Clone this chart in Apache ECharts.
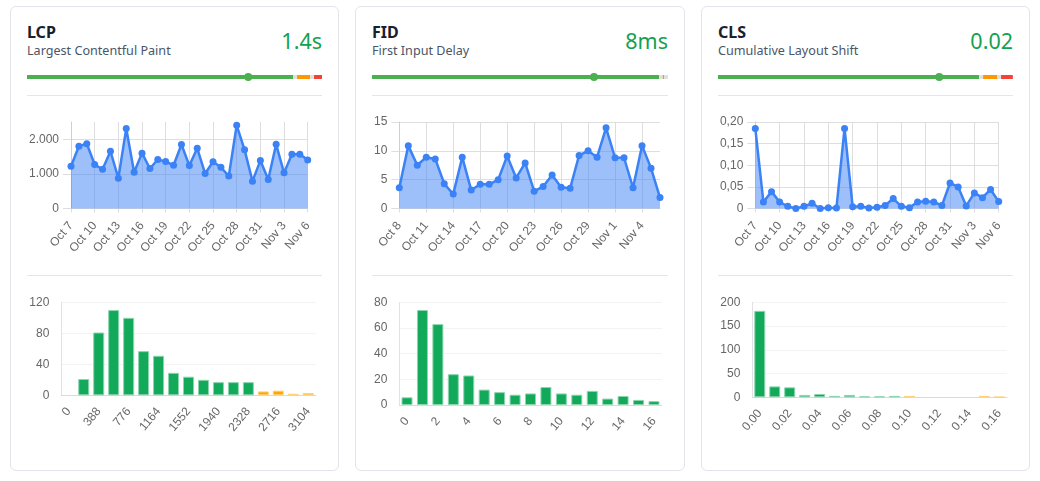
<!DOCTYPE html>
<html>
<head>
<meta charset="utf-8">
<title>Web Vitals</title>
<script src="https://cdn.jsdelivr.net/npm/echarts@6/dist/echarts.min.js"></script>
<style>
  html, body { margin: 0; padding: 0; background: #fff; width: 1040px; height: 481px; overflow: hidden; }
  body { position: relative; font-family: "Noto Sans", sans-serif; }
  #main { position: absolute; left: 0; top: 0; width: 1040px; height: 481px; z-index: 2; }
  .card { position: absolute; top: 6px; height: 463px; border: 1px solid #e3e4ea; border-radius: 6px; box-sizing: content-box; }
  .name { position: absolute; left: 16px; top: 13px; font-size: 16px; line-height: 24px; font-weight: 700; color: #1a202c; }
  .desc { position: absolute; left: 16px; top: 35px; font-size: 12.6px; line-height: 18px; color: #4a5568; white-space: nowrap; }
  .score { position: absolute; right: 16px; top: 17px; font-size: 21.5px; line-height: 34px; color: #12a150; }
  .rule { position: absolute; left: 16px; right: 16px; height: 1px; background: #e5e6eb; }
</style>
</head>
<body>
<div class="card" style="left:10px;width:327px">
  <div class="name">LCP</div><div class="desc">Largest Contentful Paint</div><div class="score">1.4s</div>
  <div class="rule" style="top:88px"></div><div class="rule" style="top:268px"></div>
</div>
<div class="card" style="left:355px;width:328px">
  <div class="name">FID</div><div class="desc">First Input Delay</div><div class="score">8ms</div>
  <div class="rule" style="top:88px"></div><div class="rule" style="top:268px"></div>
</div>
<div class="card" style="left:701px;width:327px">
  <div class="name">CLS</div><div class="desc">Cumulative Layout Shift</div><div class="score">0.02</div>
  <div class="rule" style="top:88px"></div><div class="rule" style="top:268px"></div>
</div>
<div id="main"></div>
<script>
// dates
var lcpDays = ['Oct 7','Oct 8','Oct 9','Oct 10','Oct 11','Oct 12','Oct 13','Oct 14','Oct 15','Oct 16','Oct 17','Oct 18','Oct 19','Oct 20','Oct 21','Oct 22','Oct 23','Oct 24','Oct 25','Oct 26','Oct 27','Oct 28','Oct 29','Oct 30','Oct 31','Nov 1','Nov 2','Nov 3','Nov 4','Nov 5','Nov 6'];
var fidDays = lcpDays.slice(1);
var clsDays = lcpDays;

// daily values
var lcpTrend = [1221,1800,1875,1270,1135,1655,875,2310,1050,1600,1155,1415,1355,1250,1850,1240,1740,1010,1350,1190,940,2405,1695,790,1385,840,1855,1030,1570,1570,1405];
var fidTrend = [3.6,10.9,7.5,8.9,8.6,4.3,2.5,8.9,3.2,4.2,4.2,5,9.1,5.3,7.9,3,3.8,5.8,3.7,3.5,9.2,10,8.9,14,8.8,8.8,3.6,10.9,7,1.9];
var clsTrend = [0.185,0.015,0.039,0.015,0.005,0,0.005,0.012,0,0.002,0.001,0.185,0.004,0.005,0.001,0.003,0.007,0.023,0.005,0.002,0.015,0.017,0.015,0.007,0.059,0.05,0.006,0.036,0.025,0.044,0.016];

// histogram bins and counts
var lcpBins = ['0','194','388','582','776','970','1164','1358','1552','1746','1940','2134','2328','2522','2716','2910','3104'];
var fidBins = ['0','1','2','3','4','5','6','7','8','9','10','11','12','13','14','15','16'];
var clsBins = ['0.00','0.01','0.02','0.03','0.04','0.05','0.06','0.07','0.08','0.09','0.10','0.11','0.12','0.13','0.14','0.15','0.16'];
var lcpCounts = [0,21,81,110,100,57,51,29,24,20,17,17,17,5,6,2,3];
var fidCounts = [6,74,63,24,23,12,10,8,9,14,9,8,11,5,7,4,3];
var clsCounts = [182,23,21,5,7,3,5,2,2,3,3,0,0,0,0,3,1];
var lcpGoodBins = 13;
var fidGoodBins = 17;
var clsGoodBins = 10;

// meter shares in percent: good, gap, needs improvement, gap, poor
var lcpMeter = [90.2,1.35,4.4,1.35,2.7];
var fidMeter = [97,1.25,0.4,1.35,0];
var clsMeter = [88.5,1.35,4.75,1.35,4];
var meterMarker = 75;

var TEXT = '#666';
var GRID_LINE = '#dedee0';
var LABEL_FONT = '"Liberation Sans", Arial, sans-serif';
var meterColors = ['#4caf50','#e0e0e0','#ff9800','#e0e0e0','#f44336'];

var grid = [], xAxis = [], yAxis = [], series = [];

function addGrid(box, xa, ya) {
    grid.push(Object.assign({ containLabel: false }, box));
    var idx = grid.length - 1;
    xa.gridIndex = idx;
    ya.gridIndex = idx;
    xAxis.push(xa);
    yAxis.push(ya);
    return idx;
}

function addMeter(left, width, shares) {
    var idx = addGrid({ left: left, width: width, top: 72, height: 10 },
        { type: 'value', min: 0, max: 100, show: false },
        { type: 'category', data: ['m'], show: false });
    shares.forEach(function (share, i) {
        series.push({
            type: 'bar', stack: 'meter' + idx, xAxisIndex: idx, yAxisIndex: idx,
            barWidth: 4, silent: true, data: [share],
            itemStyle: { color: meterColors[i] }
        });
    });
    series.push({
        type: 'scatter', xAxisIndex: idx, yAxisIndex: idx, z: 5, silent: true,
        symbolSize: 8, data: [[meterMarker, 'm']], itemStyle: { color: '#4caf50', opacity: 1 }
    });
}

function addTrend(left, width, days, values, yMax, yStep, fmt) {
    var showTop = yMax % yStep < 1e-9 || yStep - yMax % yStep < 1e-9;
    var idx = addGrid({ left: left, width: width, top: 122, height: 86.5 },
        {
            type: 'category', data: days, boundaryGap: false,
            axisLine: { lineStyle: { color: GRID_LINE } },
            axisTick: { interval: 2, length: 4, lineStyle: { color: GRID_LINE } },
            splitLine: { show: true, interval: 2, lineStyle: { color: GRID_LINE } },
            axisLabel: { interval: 2, rotate: 50, margin: 15, color: TEXT, fontSize: 12, fontFamily: LABEL_FONT, hideOverlap: false }
        },
        {
            type: 'value', min: 0, max: yMax, interval: yStep,
            axisLine: { show: true, lineStyle: { color: '#cfcfd2' } },
            axisTick: { show: true, length: 8, lineStyle: { color: GRID_LINE } },
            splitLine: { show: true, showMaxLine: showTop, lineStyle: { color: GRID_LINE } },
            axisLabel: { margin: 12, color: TEXT, fontSize: 12, fontFamily: LABEL_FONT, formatter: fmt, showMaxLabel: showTop }
        });
    series.push({
        type: 'line', xAxisIndex: idx, yAxisIndex: idx, data: values, clip: false, silent: true,
        symbol: 'circle', symbolSize: 7, showAllSymbol: true,
        lineStyle: { color: '#3b82f6', width: 2.5 },
        itemStyle: { color: '#3b82f6' },
        areaStyle: { color: '#3b82f6', opacity: 0.5 }
    });
}

function addHist(left, width, bottom, bins, counts, goodBins, yMax, yStep) {
    var idx = addGrid({ left: left, width: width, top: 302.3, height: bottom - 302.3 },
        {
            type: 'category', data: bins,
            axisLine: { lineStyle: { color: '#d9d9dc' } },
            axisTick: { show: false },
            axisLabel: { interval: 1, rotate: 50, margin: 14, color: TEXT, fontSize: 12, fontFamily: LABEL_FONT, hideOverlap: false }
        },
        {
            type: 'value', min: 0, max: yMax, interval: yStep,
            axisLine: { show: true, lineStyle: { color: '#e2e2e5' } },
            axisTick: { show: false },
            splitLine: { lineStyle: { color: '#f3f3f6' } },
            axisLabel: { margin: 12, color: TEXT, fontSize: 12, fontFamily: LABEL_FONT }
        });
    series.push({
        type: 'bar', xAxisIndex: idx, yAxisIndex: idx, barWidth: 11, silent: true,
        data: counts.map(function (count, i) {
            var good = i < goodBins;
            return {
                value: count,
                itemStyle: {
                    color: good ? '#12a95b' : '#ffa400',
                    borderWidth: count === 0 ? 0 : 1,
                    borderColor: good ? '#8cd6ae' : '#ffd27a'
                }
            };
        })
    });
}

addMeter(27, 295, lcpMeter);
addMeter(372, 296, fidMeter);
addMeter(718, 295, clsMeter);

addTrend(71, 236.7, lcpDays, lcpTrend, 2500, 1000, function (v) { return v === 0 ? '0' : v / 1000 + '.000'; });
addTrend(399.3, 260.7, fidDays, fidTrend, 15, 5, function (v) { return String(v); });
addTrend(755.3, 243.4, clsDays, clsTrend, 0.2, 0.05, function (v) { return v === 0 ? '0' : v.toFixed(2).replace('.', ','); });

addHist(61.3, 254.4, 395.3, lcpBins, lcpCounts, lcpGoodBins, 120, 40);
addHist(399.3, 262.4, 405, fidBins, fidCounts, fidGoodBins, 80, 20);
addHist(752.3, 254.4, 397.3, clsBins, clsCounts, clsGoodBins, 200, 50);

var myChart = echarts.init(document.getElementById('main'), null, { renderer: 'canvas' });
myChart.setOption({
    animation: false,
    backgroundColor: 'transparent',
    grid: grid,
    xAxis: xAxis,
    yAxis: yAxis,
    series: series
});
</script>
</body>
</html>
